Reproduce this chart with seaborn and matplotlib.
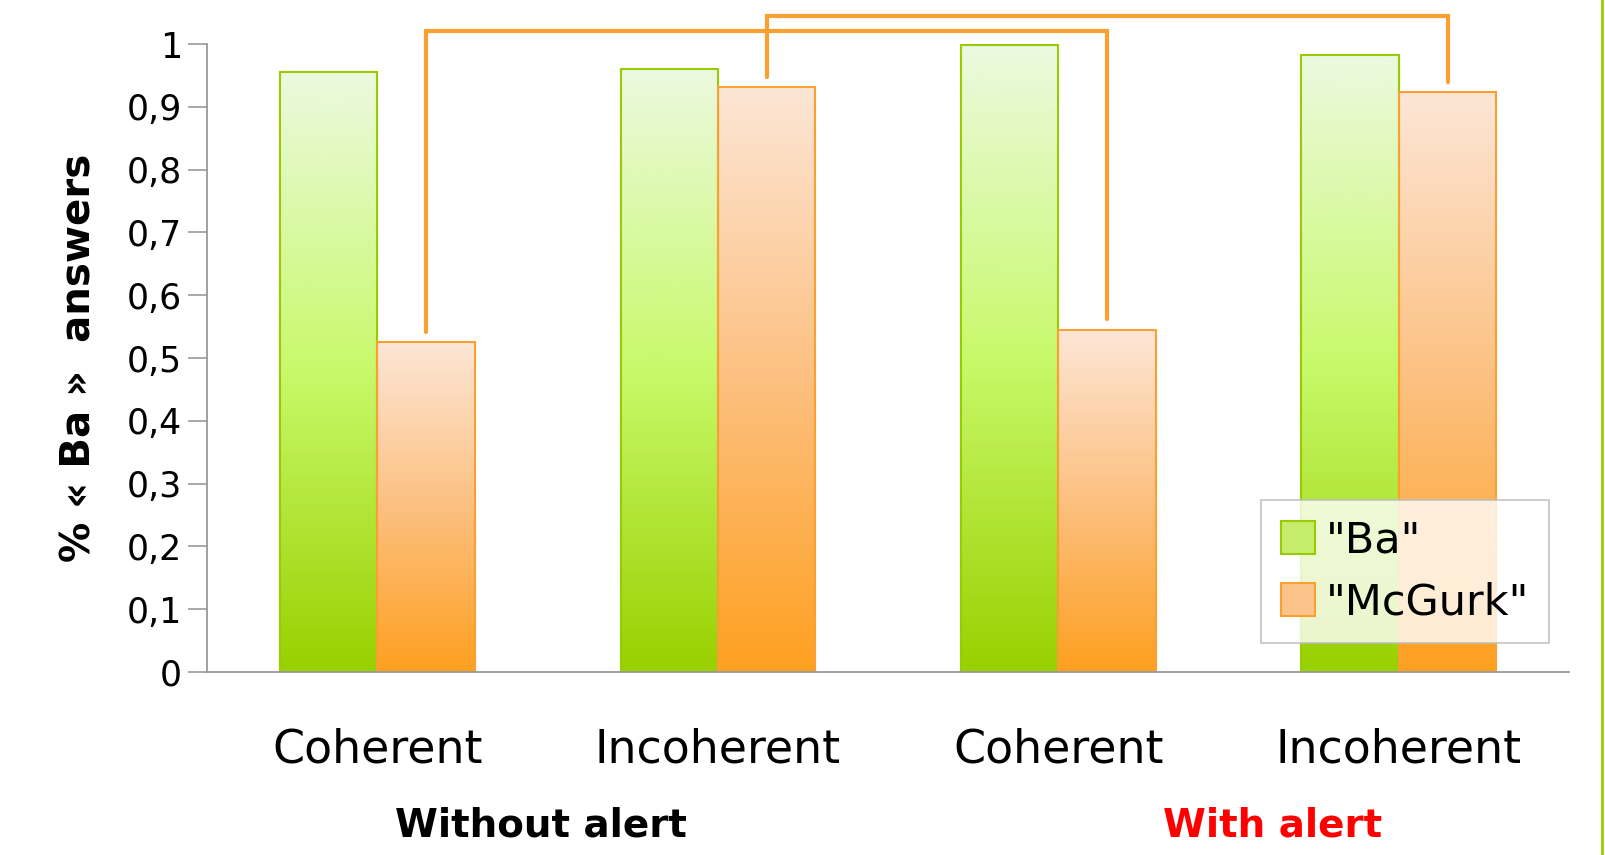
import numpy as np
import pandas as pd
import matplotlib.pyplot as plt
import seaborn as sns
from matplotlib.colors import LinearSegmentedColormap
from matplotlib.lines import Line2D

conditions = ['without_coherent', 'without_incoherent', 'with_coherent', 'with_incoherent']
tick_labels = ['Coherent', 'Incoherent', 'Coherent', 'Incoherent']
ba = [0.956, 0.961, 0.998, 0.982]
mcgurk = [0.525, 0.931, 0.545, 0.923]
series = ['"Ba"', '"McGurk"']
yticks = [0, 0.1, 0.2, 0.3, 0.4, 0.5, 0.6, 0.7, 0.8, 0.9, 1]
ytick_labels = ['0', '0,1', '0,2', '0,3', '0,4', '0,5', '0,6', '0,7', '0,8', '0,9', '1']
# brackets: (from condition, to condition, top level)
brackets = [(0, 2, 1.02), (1, 3, 1.044)]

df = pd.DataFrame({
    'cond': conditions * 2,
    'val': ba + mcgurk,
    'serie': [series[0]] * 4 + [series[1]] * 4,
})

sns.set_theme(style='white')
plt.rcParams['font.family'] = ['DejaVu Sans']
plt.rcParams['text.color'] = 'black'
plt.rcParams['xtick.labelcolor'] = 'black'
plt.rcParams['ytick.labelcolor'] = 'black'

fig = plt.figure(figsize=(16.06, 8.55), dpi=100)
ax = fig.add_axes([0.129, 0.214, 0.848, 0.7345])

pal = {series[0]: '#c6ec6c', series[1]: '#fcc48a'}
sns.barplot(data=df, x='cond', y='val', hue='serie', order=conditions,
            hue_order=series, palette=pal, width=0.572, ax=ax,
            saturation=1, legend=True)

# gradient fills
grads = [LinearSegmentedColormap.from_list('g', ['#98d100', '#c8f96a', '#ecf9e0']),
         LinearSegmentedColormap.from_list('o', ['#ffa020', '#fcc080', '#fde6d6'])]
edges = ['#99cc00', '#f9a030']
for cont, cmap, ec in zip(ax.containers, grads, edges):
    for bar in cont:
        bar.set_edgecolor(ec)
        bar.set_linewidth(1.5)
        x0, y0 = bar.get_x(), bar.get_y()
        w, h = bar.get_width(), bar.get_height()
        grad = np.linspace(0, 1, 256).reshape(-1, 1)
        im = ax.imshow(grad, cmap=cmap, aspect='auto', origin='lower',
                       extent=[x0, x0 + w, y0, y0 + h], zorder=bar.get_zorder())
        im.set_clip_path(bar)
        bar.set_zorder(bar.get_zorder() + 0.1)
        bar.set_facecolor('none')

ax.set_xlim(-0.5, 3.5)
ax.set_ylim(0, 1)
ax.set_yticks(yticks)
ax.set_yticklabels(ytick_labels, fontsize=25, color='black')
ax.set_xticks(range(4))
ax.set_xticklabels(tick_labels, fontsize=33, color='black')
ax.set_xticks([-0.5, 0.5, 1.5, 2.5, 3.5], minor=True)
ax.tick_params(axis='x', which='major', length=0, pad=40)
ax.tick_params(axis='x', which='minor', length=11, width=1.2, color='#999999', direction='out')
ax.tick_params(axis='y', length=14, width=1.2, color='#999999', direction='out', left=True, pad=4)
for s in ['top', 'right']:
    ax.spines[s].set_visible(False)
for s in ['left', 'bottom']:
    ax.spines[s].set_color('#999999')
    ax.spines[s].set_linewidth(1.3)
ax.set_xlabel('')
ax.set_ylabel('% « Ba »  answers', fontsize=29, fontweight='bold', labelpad=20, color='black')

# significance brackets between McGurk bars
mc_bars = ax.containers[1]
for a, b, top in brackets:
    xa = mc_bars[a].get_x() + mc_bars[a].get_width() / 2
    xb = mc_bars[b].get_x() + mc_bars[b].get_width() / 2
    ya = mcgurk[a] + 0.017
    yb = mcgurk[b] + 0.017
    ax.plot([xa, xa, xb, xb], [ya, top, top, yb], color='#f9a030', lw=3,
            clip_on=False, zorder=5, solid_joinstyle='miter')

# group labels
ax.text(0.48, -0.245, 'Without alert', transform=ax.get_xaxis_transform(),
        ha='center', va='center', fontsize=28, fontweight='bold', color='black')
ax.text(2.63, -0.245, 'With alert', transform=ax.get_xaxis_transform(),
        ha='center', va='center', fontsize=28, fontweight='bold', color='#ff0000')

leg = ax.legend(loc='lower right', bbox_to_anchor=(0.985, 0.047), fontsize=31,
                frameon=True, fancybox=False, framealpha=0.8, edgecolor='#bbbbbb',
                handlelength=0.8, handleheight=0.8, handletextpad=0.25,
                labelspacing=0.45, borderpad=0.45, borderaxespad=0)
leg.get_frame().set_linewidth(1.3)
for t in leg.get_texts():
    t.set_color('black')
for h, ec, fc in zip(leg.legend_handles, edges, ['#c6ec6c', '#fcc48a']):
    h.set_edgecolor(ec)
    h.set_facecolor(fc)
    h.set_linewidth(1.5)

# slide border on the right
fig.add_artist(Line2D([0.9975, 0.9975], [0, 1], color='#99cc00', lw=2,
                      transform=fig.transFigure))

fig.savefig('out.png', dpi=100)
